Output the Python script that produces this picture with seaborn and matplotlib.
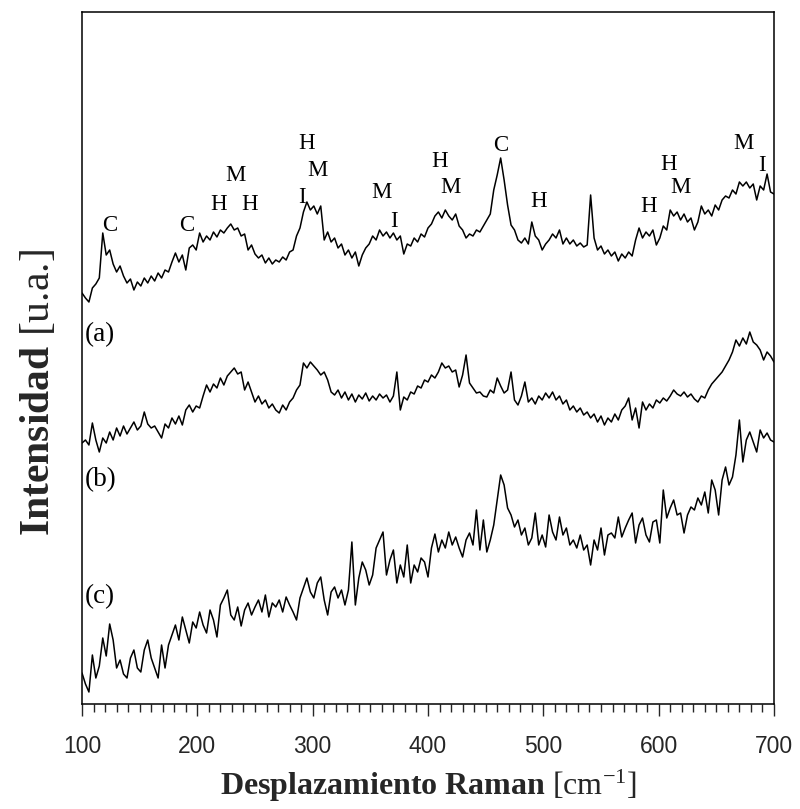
import numpy as np
import pandas as pd
import matplotlib
matplotlib.use("Agg")
import matplotlib.pyplot as plt
from matplotlib.ticker import MultipleLocator
import seaborn as sns

# ---------------- data ----------------
raman_shift = np.arange(100, 701, 3)  # cm^-1

spectrum_a = [
    411, 406, 402, 416, 420, 426, 471, 449, 454, 440, 432, 438, 428, 421, 425, 414, 422, 418, 426, 421,
    428, 423, 431, 426, 434, 432, 442, 451, 442, 449, 434, 456, 459, 454, 471, 462, 468, 464, 472, 467,
    474, 471, 476, 480, 474, 476, 468, 470, 454, 459, 450, 446, 449, 441, 446, 440, 444, 442, 447, 444,
    452, 454, 468, 476, 492, 502, 494, 498, 490, 498, 464, 472, 462, 466, 456, 460, 449, 454, 446, 452,
    438, 449, 456, 460, 468, 464, 474, 468, 472, 466, 471, 464, 468, 450, 460, 458, 466, 462, 470, 467,
    476, 480, 488, 492, 486, 494, 488, 484, 490, 478, 474, 466, 470, 468, 474, 472, 478, 484, 490, 514,
    529, 546, 524, 499, 479, 474, 464, 461, 466, 460, 482, 468, 464, 454, 460, 464, 470, 466, 474, 460,
    466, 460, 464, 458, 461, 457, 459, 509, 466, 454, 458, 450, 454, 448, 452, 443, 450, 446, 452, 448,
    464, 476, 466, 472, 468, 474, 459, 466, 478, 474, 494, 488, 492, 484, 490, 482, 486, 474, 482, 498,
    490, 494, 488, 499, 494, 504, 508, 506, 514, 510, 522, 518, 522, 516, 520, 504, 518, 514, 530, 512,
    510,
]

spectrum_b_px = [
    443, 440, 445, 423, 440, 452, 438, 443, 432, 440, 428, 436, 426, 434, 428, 422, 430, 426, 412, 424,
    428, 426, 432, 438, 424, 428, 418, 424, 416, 425, 410, 405, 412, 406, 408, 396, 385, 392, 384, 388,
    378, 385, 376, 372, 368, 374, 372, 390, 382, 392, 402, 396, 404, 400, 408, 404, 410, 413, 405, 410,
    402, 398, 390, 385, 363, 368, 362, 366, 370, 375, 372, 380, 392, 395, 390, 398, 392, 400, 394, 402,
    395, 399, 393, 401, 396, 400, 394, 398, 395, 402, 396, 372, 410, 397, 400, 392, 394, 386, 388, 380,
    382, 375, 378, 372, 363, 368, 366, 372, 370, 387, 375, 355, 383, 388, 393, 392, 396, 397, 390, 393,
    378, 386, 393, 390, 372, 400, 405, 396, 382, 402, 398, 404, 396, 400, 393, 398, 392, 400, 396, 404,
    400, 410, 406, 412, 408, 415, 412, 418, 414, 422, 416, 425, 418, 422, 414, 420, 410, 406, 398, 420,
    408, 428, 402, 410, 404, 408, 400, 403, 398, 401, 396, 390, 394, 396, 392, 397, 394, 399, 402, 396,
    398, 390, 384, 380, 376, 372, 366, 360, 352, 340, 346, 338, 344, 332, 342, 345, 350, 360, 352, 356,
    362,
]
spectrum_b = [704 - v for v in spectrum_b_px]

spectrum_c_px = [
    673, 684, 692, 655, 678, 666, 638, 656, 624, 640, 668, 660, 674, 678, 658, 650, 668, 672, 650, 640,
    658, 668, 678, 645, 668, 645, 635, 625, 640, 617, 630, 643, 622, 628, 612, 625, 633, 610, 620, 637,
    605, 598, 590, 615, 620, 607, 626, 610, 603, 615, 607, 600, 612, 595, 617, 603, 607, 600, 612, 597,
    605, 612, 620, 598, 588, 578, 592, 598, 583, 577, 600, 615, 592, 587, 598, 590, 605, 590, 542, 605,
    578, 562, 570, 585, 575, 548, 540, 532, 575, 560, 550, 583, 565, 577, 545, 583, 565, 572, 558, 562,
    577, 548, 534, 552, 540, 548, 532, 545, 537, 548, 557, 540, 533, 545, 510, 550, 520, 552, 540, 525,
    500, 475, 485, 508, 515, 527, 520, 535, 528, 545, 538, 513, 545, 535, 547, 515, 532, 540, 517, 535,
    528, 545, 540, 548, 535, 550, 545, 565, 540, 550, 528, 555, 535, 533, 538, 517, 537, 528, 520, 513,
    543, 525, 518, 535, 542, 522, 520, 543, 490, 518, 508, 500, 515, 513, 533, 515, 507, 510, 498, 505,
    492, 513, 480, 490, 515, 480, 467, 485, 477, 455, 420, 462, 440, 432, 442, 452, 430, 438, 433, 440,
    442,
]
spectrum_c = [704 - v for v in spectrum_c_px]

series_labels = ["(a)", "(b)", "(c)"]
series_label_x = [102.5, 102.5, 102.5]
series_label_y = [369, 224, 107]

peak_text = ["C", "C", "H", "M", "H", "H", "M", "I", "M", "I",
             "H", "M", "C", "H", "H", "H", "M", "M", "I"]
peak_x = [124.3, 190.8, 218.8, 233.3, 245.7, 294.8, 304.4, 290.8, 359.3, 370.5,
          409.8, 419.1, 463.3, 496.3, 591.6, 608.9, 619.1, 673.4, 689.4]
peak_y = [473, 473, 494, 523, 494, 555, 528, 501, 506, 477,
          537, 511, 553, 497, 492, 534, 511, 555, 533]

# ---------------- plot ----------------
sns.set_style("ticks")
plt.rcParams["font.family"] = ["Liberation Serif", "DejaVu Serif"]
plt.rcParams["mathtext.fontset"] = "custom"
plt.rcParams["mathtext.rm"] = "Liberation Serif"
plt.rcParams["mathtext.bf"] = "Liberation Serif:bold"
plt.rcParams["mathtext.it"] = "Liberation Serif:italic"

fig = plt.figure(figsize=(8.0, 8.09), dpi=100)
ax = fig.add_axes([82 / 800, 1 - 704 / 809, 692 / 800, 692 / 809])

df = pd.DataFrame({
    "shift": np.concatenate([raman_shift] * 3),
    "intensity": np.concatenate([spectrum_a, spectrum_b, spectrum_c]),
    "sample": np.repeat(series_labels, len(raman_shift)),
})
for lab in series_labels:
    sub = df[df["sample"] == lab]
    sns.lineplot(data=sub, x="shift", y="intensity", color="black",
                 linewidth=1.1, ax=ax, estimator=None, sort=False, legend=False)

ax.set_xlim(100, 700)
ax.set_ylim(0, 692)

for t, x, y in zip(peak_text, peak_x, peak_y):
    ax.text(x, y, t, ha="center", va="baseline", fontsize=16.5,
            family="Liberation Serif", color="black")
for t, x, y in zip(series_labels, series_label_x, series_label_y):
    ax.text(x, y, t, ha="left", va="center", fontsize=19.5,
            family="Liberation Serif", color="black")

ax.xaxis.set_major_locator(MultipleLocator(100))
ax.xaxis.set_minor_locator(MultipleLocator(10))
ax.tick_params(axis="x", which="major", direction="out", length=8.6, width=1.0,
               pad=14, labelsize=16.5)
ax.tick_params(axis="x", which="minor", direction="out", length=5.6, width=1.0)
ax.tick_params(axis="y", which="both", left=False, labelleft=False)
for lab in ax.get_xticklabels():
    lab.set_family("Liberation Sans")

for sp in ax.spines.values():
    sp.set_linewidth(1.1)
    sp.set_color("black")

ax.set_xlabel(r"$\mathbf{Desplazamiento\ Raman}$ [cm$^{-1}$]", fontsize=23, labelpad=7)
ax.set_ylabel(r"$\mathbf{Intensidad}$ [u.a.]", fontsize=30)
ax.yaxis.set_label_coords(-0.034, 0.45)

fig.savefig("out.png", dpi=100)
